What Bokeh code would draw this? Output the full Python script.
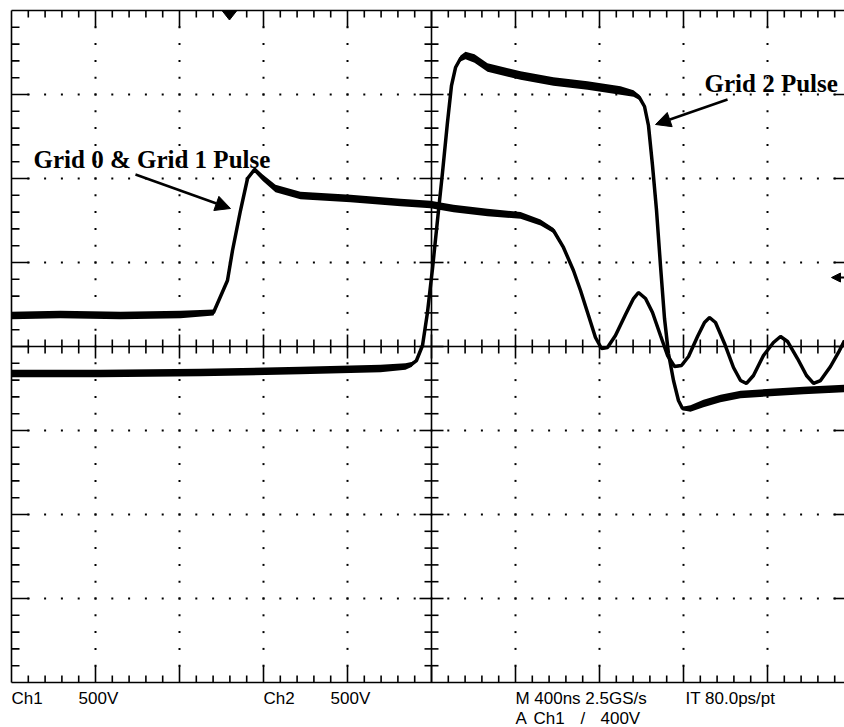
from bokeh.plotting import figure
from bokeh.models import Range1d, Label, Arrow, NormalHead
from bokeh.embed import file_html
from bokeh.resources import INLINE

# ---------------- data (screen divisions: x 0..10, y -4..4) ----------------
ch1_x = [0.000, 0.583, 1.298, 2.012, 2.405, 2.488, 2.571, 2.631, 2.726, 2.810,
         2.893, 2.988, 3.143, 3.440, 4.036, 4.631, 4.988, 5.262, 5.667, 6.060,
         6.298, 6.452, 6.571, 6.690, 6.774, 6.869, 6.952, 7.024, 7.095, 7.190,
         7.310, 7.405, 7.464, 7.548, 7.631, 7.726, 7.810, 7.893, 7.976, 8.060,
         8.167, 8.250, 8.310, 8.381, 8.488, 8.595, 8.679, 8.750, 8.833, 8.952,
         9.071, 9.155, 9.238, 9.357, 9.464, 9.548, 9.631, 9.750, 9.845, 9.917]
ch1_y = [0.369, 0.381, 0.369, 0.381, 0.405, 0.595, 0.786, 1.143, 1.619, 2.000,
         2.107, 2.012, 1.881, 1.798, 1.762, 1.714, 1.690, 1.643, 1.595, 1.560,
         1.476, 1.381, 1.179, 0.905, 0.667, 0.369, 0.107, -0.024, -0.012, 0.131,
         0.381, 0.571, 0.643, 0.571, 0.405, 0.131, -0.107, -0.238, -0.226, -0.119,
         0.119, 0.286, 0.345, 0.286, 0.036, -0.250, -0.405, -0.440, -0.345, -0.107,
         0.048, 0.119, 0.060, -0.143, -0.345, -0.440, -0.405, -0.238, -0.071, 0.071]
# half-thickness of the noise band around the trace (divisions)
ch1_band = [0.045, 0.045, 0.045, 0.045, 0.035, 0.0, 0.0, 0.0, 0.0, 0.01,
            0.03, 0.04, 0.045, 0.045, 0.045, 0.045, 0.045, 0.045, 0.045, 0.04,
            0.035, 0.03, 0.02, 0.015, 0.015, 0.015, 0.015, 0.015, 0.015, 0.015,
            0.015, 0.015, 0.015, 0.015, 0.015, 0.015, 0.015, 0.015, 0.015, 0.015,
            0.015, 0.015, 0.015, 0.015, 0.015, 0.015, 0.015, 0.015, 0.015, 0.015,
            0.015, 0.015, 0.015, 0.015, 0.015, 0.015, 0.015, 0.015, 0.015, 0.015]

ch2_x = [0.000, 1.060, 2.250, 3.440, 4.393, 4.690, 4.762, 4.821, 4.893, 4.952,
         5.012, 5.071, 5.131, 5.190, 5.238, 5.286, 5.345, 5.405, 5.512, 5.667,
         6.060, 6.452, 6.857, 7.250, 7.405, 7.476, 7.536, 7.583, 7.631, 7.679,
         7.726, 7.774, 7.821, 7.881, 7.940, 7.988, 8.083, 8.238, 8.440, 8.679,
         9.036, 9.429, 9.917]
ch2_y = [-0.321, -0.321, -0.310, -0.286, -0.262, -0.238, -0.214, -0.167, 0.012, 0.405,
         0.929, 1.500, 2.071, 2.667, 3.107, 3.321, 3.429, 3.464, 3.429, 3.321,
         3.226, 3.155, 3.107, 3.048, 3.012, 2.964, 2.857, 2.631, 2.155, 1.619,
         0.964, 0.333, -0.083, -0.405, -0.643, -0.738, -0.738, -0.679, -0.619, -0.571,
         -0.548, -0.524, -0.500]
ch2_band = [0.045, 0.045, 0.045, 0.045, 0.045, 0.04, 0.03, 0.0, 0.0, 0.0,
            0.0, 0.0, 0.0, 0.0, 0.0, 0.02, 0.035, 0.045, 0.05, 0.05,
            0.05, 0.05, 0.05, 0.05, 0.04, 0.03, 0.0, 0.0, 0.0, 0.0,
            0.0, 0.0, 0.0, 0.0, 0.0, 0.02, 0.04, 0.045, 0.045, 0.045,
            0.045, 0.045, 0.045]

trigger_pos = 2.595      # divisions from left (trigger marker)
trigger_level = 0.821    # divisions above centre (level marker)

bottom_row1 = [("Ch1", 0.0), ("500V", 0.798), ("Ch2", 3.000), ("500V", 3.798),
               ("M 400ns 2.5GS/s", 5.999), ("IT 80.0ps/pt", 8.024)]
bottom_row2 = [("A", 5.999), ("Ch1", 6.214), ("/", 6.774), ("400V", 7.012)]

# ---------------- figure ----------------
PX = 84.0  # pixels per division; graticule left edge at x=11px, centre line at y=346px
LBL = 7 / PX  # baseline correction for labels
p = figure(frame_width=835, frame_height=719, min_border_left=9, min_border_right=0,
           min_border_top=8, min_border_bottom=0,
           x_range=Range1d((9 - 11) / PX, (844 - 11) / PX),
           y_range=Range1d((346 - 727) / PX, (346 - 8) / PX),
           x_axis_type=None, y_axis_type=None, toolbar_location=None,
           output_backend="svg", background_fill_color="white",
           border_fill_color="white", outline_line_color=None)
p.grid.visible = False

# graticule dots
dx, dy = [], []
for gx in [1, 2, 3, 4, 6, 7, 8, 9]:
    for k in range(1, 40):
        dx.append(gx); dy.append(-4 + k * 0.2)
for gy in [-3, -2, -1, 1, 2, 3]:
    for k in range(1, 50):
        dx.append(k * 0.2); dy.append(gy)
p.scatter(dx, dy, marker="square", size=2, fill_color="black", line_color=None)

# border + centre axes
x0s, y0s, x1s, y1s = [], [], [], []
def seg(a, b, c, d):
    x0s.append(a); y0s.append(b); x1s.append(c); y1s.append(d)

seg(0, -4, 0, 4); seg(0, 4, 10, 4); seg(0, -4, 10, -4); seg(10, -4, 10, 4)
seg(0, 0, 10, 0); seg(5, -4, 5, 4)
for i in range(1, 50):
    x = i * 0.2
    major = (i % 5 == 0)
    L = (17 if major else 7) / PX
    seg(x, 4, x, 4 - L)
    seg(x, -4, x, -4 + L)
    h = (12 if major else 7) / PX
    seg(x, -h, x, h)
for j in range(1, 40):
    y = -4 + j * 0.2
    major = (j % 5 == 0)
    L = (18 if major else 8) / PX
    seg(0, y, L, y)
    if major:
        seg(10, y, 10 - L, y)
    h = (12 if major else 7) / PX
    seg(5 - h, y, 5 + h, y)
p.segment(x0s, y0s, x1s, y1s, line_color="black", line_width=1.6, line_cap="butt")

# traces
for xs, ys, bs in [(ch1_x, ch1_y, ch1_band), (ch2_x, ch2_y, ch2_band)]:
    lo = [a - b for a, b in zip(ys, bs)]
    hi = [a + b for a, b in zip(ys, bs)]
    p.varea(x=xs, y1=lo, y2=hi, fill_color="black")
    p.line(xs, ys, line_color="black", line_width=3.5)

# trigger position marker (top)
tw, th = 7.5 / PX, 9.5 / PX
p.patch([trigger_pos - tw, trigger_pos + tw, trigger_pos], [4, 4, 4 - th],
        fill_color="black", line_color="black")

# trigger level marker (right)
p.add_layout(Arrow(end=NormalHead(size=9, fill_color="black", line_color="black"),
                   x_start=833 / PX, y_start=trigger_level,
                   x_end=820 / PX, y_end=trigger_level,
                   line_color="black", line_width=2))

# annotations
serif = "Liberation Serif"
p.add_layout(Label(x=0.262, y=2.143 + LBL, text="Grid 0 & Grid 1 Pulse", text_font=serif,
                   text_font_style="bold", text_font_size="25px",
                   text_baseline="alphabetic", text_color="black"))
p.add_layout(Label(x=8.250, y=3.048 + LBL, text="Grid 2 Pulse", text_font=serif,
                   text_font_style="bold", text_font_size="25px",
                   text_baseline="alphabetic", text_color="black"))
p.add_layout(Arrow(end=NormalHead(size=15, fill_color="black", line_color="black"),
                   x_start=1.476, y_start=2.048, x_end=2.607, y_end=1.643,
                   line_color="black", line_width=2.5))
p.add_layout(Arrow(end=NormalHead(size=15, fill_color="black", line_color="black"),
                   x_start=8.524, y_start=2.940, x_end=7.667, y_end=2.643,
                   line_color="black", line_width=2.5))

# status text below the graticule
for txt, x in bottom_row1:
    p.add_layout(Label(x=x, y=-4.274 + LBL, text=txt, text_font="Liberation Sans",
                       text_font_size="17px", text_baseline="alphabetic",
                       text_color="black"))
for txt, x in bottom_row2:
    p.add_layout(Label(x=x, y=-4.512 + LBL, text=txt, text_font="Liberation Sans",
                       text_font_size="17px", text_baseline="alphabetic",
                       text_color="black"))

open("out.html", "w").write(file_html(p, INLINE))
